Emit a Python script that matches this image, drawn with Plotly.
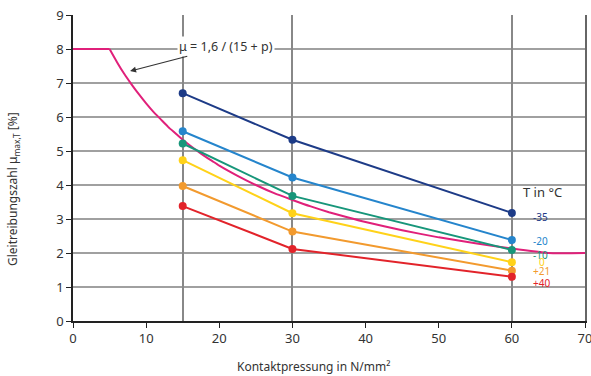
import plotly.graph_objects as go

# --- data ---
p_vals = [15, 30, 60]
temps = ["-35", "-20", "-10", "0", "+21", "+40"]
mu_m35 = [6.70, 5.33, 3.18]
mu_m20 = [5.58, 4.22, 2.38]
mu_m10 = [5.22, 3.68, 2.09]
mu_0 = [4.73, 3.17, 1.73]
mu_p21 = [3.97, 2.63, 1.48]
mu_p40 = [3.38, 2.12, 1.30]
series = [mu_m35, mu_m20, mu_m10, mu_0, mu_p21, mu_p40]
colors = ["#1d3b87", "#2585cc", "#17967a", "#ffd219", "#f29a2e", "#e2232a"]

# limit curve
curve_p = [0, 5, 6, 7, 8, 9, 10, 11, 12, 13, 14, 15, 16, 17, 18, 19, 20, 22.5, 25, 27.5,
           30, 32.5, 35, 37.5, 40, 45, 50, 55, 60, 65, 70]
curve_mu = [8.0, 8.0, 7.62, 7.27, 6.96, 6.67, 6.40, 6.15, 5.93, 5.71, 5.52, 5.33, 5.16,
            5.00, 4.85, 4.71, 4.57, 4.27, 4.00, 3.76, 3.56, 3.37, 3.20, 3.05, 2.91, 2.67,
            2.46, 2.29, 2.13, 2.00, 2.00]

# label positions for the temperature legend
label_y = [3.06, 2.35, 1.93, 1.74, 1.47, 1.12]
label_x = [62.6, 62.6, 62.6, 63.5, 62.6, 62.6]

grid_x = [15, 30, 60, 70]

fig = go.Figure()

# flat plateau then the decaying part (separate so the spline has no overshoot at the corner)
fig.add_trace(go.Scatter(x=curve_p[:2], y=curve_mu[:2], mode="lines",
                         line=dict(color="#e0207a", width=2),
                         hoverinfo="skip", showlegend=False))
fig.add_trace(go.Scatter(x=curve_p[1:], y=curve_mu[1:], mode="lines",
                         line=dict(color="#e0207a", width=2, shape="spline", smoothing=0.5),
                         hoverinfo="skip", showlegend=False))

for vals, c in zip(series, colors):
    fig.add_trace(go.Scatter(x=p_vals, y=vals, mode="lines+markers",
                             line=dict(color=c, width=2),
                             marker=dict(color=c, size=8),
                             showlegend=False))

# overlay axes: vertical gridlines only at selected positions, right border line
fig.add_trace(go.Scatter(x=[0, 70], y=[0, 0], xaxis="x2", yaxis="y2", mode="none",
                         hoverinfo="skip", showlegend=False))

font_fam = "Noto Sans, Open Sans, sans-serif"

annotations = [
    dict(x=xl, y=yl, text=t, showarrow=False, xanchor="left", yanchor="middle",
         font=dict(size=10, color=c, family=font_fam))
    for t, c, xl, yl in zip(temps, colors, label_x, label_y)
]
annotations.append(dict(x=61.3, y=3.8, text="T in °C", showarrow=False, xanchor="left",
                        yanchor="middle", font=dict(size=13, color="#333", family=font_fam)))
annotations.append(dict(x=7.8, y=7.35, ax=20.9, ay=8.08, axref="x", ayref="y",
                        text="μ = 1,6 / (15 + p)", showarrow=True, arrowhead=2,
                        arrowsize=1, arrowwidth=1.2, arrowcolor="#333",
                        bgcolor="white", font=dict(size=12.5, color="#333", family=font_fam)))
annotations.append(dict(x=0.47, y=-0.15, xref="paper", yref="paper",
                        text="Kontaktpressung in N/mm²", showarrow=False,
                        xanchor="center", yanchor="middle",
                        font=dict(size=12, color="#333", family=font_fam)))
annotations.append(dict(x=-0.116, y=0.43, xref="paper", yref="paper", textangle=-90,
                        text="Gleitreibungszahl μ<sub>max,T</sub> [%]", showarrow=False,
                        xanchor="center", yanchor="middle",
                        font=dict(size=12, color="#333", family=font_fam)))

fig.update_layout(
    width=591, height=376,
    margin=dict(l=73, r=6, t=15, b=55, autoexpand=False),
    paper_bgcolor="white", plot_bgcolor="white",
    font=dict(family=font_fam, size=13, color="#333"),
    xaxis=dict(range=[0, 70], tickvals=[0, 10, 20, 30, 40, 50, 60, 70],
               showgrid=False, zeroline=False, showline=True, linecolor="#222",
               linewidth=1.5, ticks="outside", ticklen=5, tickcolor="#222",
               tickfont=dict(size=13), ticklabeloverflow="allow", automargin=False),
    xaxis2=dict(range=[0, 70], overlaying="x", tickvals=grid_x, showticklabels=False,
                showgrid=True, gridcolor="#888", gridwidth=1.5, zeroline=False,
                showline=False, ticks="", automargin=False),
    yaxis=dict(range=[0, 9], tickvals=list(range(10)), showgrid=True,
               gridcolor="#a0a0a0", gridwidth=2, zeroline=False, showline=True,
               linecolor="#222", linewidth=1.5, ticks="outside", ticklen=5,
               tickcolor="#222", tickfont=dict(size=13), automargin=False),
    yaxis2=dict(range=[0, 9], overlaying="y", side="right", showgrid=False,
                showticklabels=False, ticks="", zeroline=False, showline=True,
                linecolor="#666", linewidth=1.5, automargin=False),
    annotations=annotations,
)

fig.write_html("out.html")
